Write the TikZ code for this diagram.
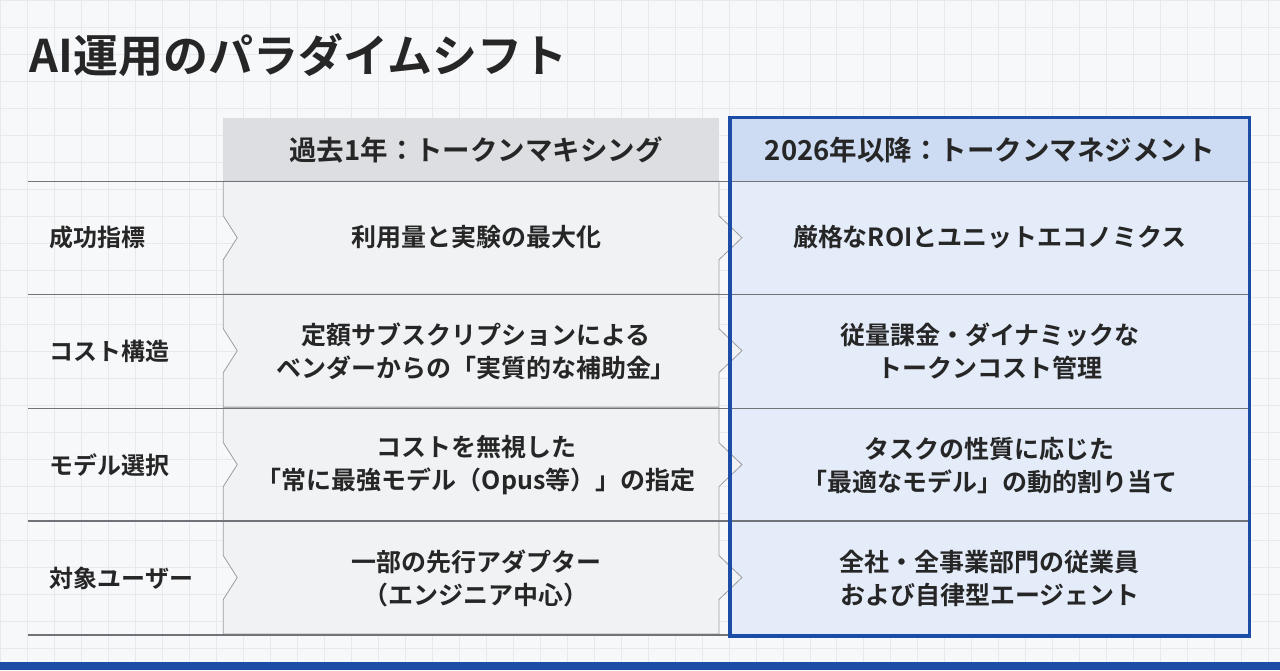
\documentclass[tikz,border=0pt]{standalone}
\usepackage{fontspec}
\newfontfamily\jp{Noto Sans CJK JP}[BoldFont={Noto Sans CJK JP Bold}]
\definecolor{bgc}{HTML}{F7F8FA}
\definecolor{gridc}{HTML}{E6E9EE}
\definecolor{oldc}{HTML}{F0F2F4}
\definecolor{oldhead}{HTML}{DCDEE2}
\definecolor{newc}{HTML}{E4ECF9}
\definecolor{newhead}{HTML}{CDDCF3}
\definecolor{bluec}{HTML}{1C4DA6}
\definecolor{linec}{HTML}{707378}
\tikzset{
	cell/.style={align=center,font=\jp\bfseries\fontsize{25}{33}\selectfont,text=black!85},
	rowlabel/.style={anchor=west,font=\jp\bfseries\fontsize{24}{28}\selectfont,text=black!85},
	head/.style={font=\jp\bfseries\fontsize{27.5}{32}\selectfont,text=black!85}
}
\begin{document}
\begin{tikzpicture}[x=1pt,y=-1pt]
			% background and grid
			\fill[bgc] (0,0) rectangle (1280,670);
			\foreach \g in {0,27,...,1280}
				\draw[gridc,line width=0.8pt] (\g,0) -- (\g,670);
			\foreach \g in {0,27,...,670}
				\draw[gridc,line width=0.8pt] (0,\g) -- (1280,\g);
			\fill[bluec] (0,662) rectangle (1280,670);

			% title
			\node[anchor=west,font=\jp\bfseries\fontsize{45}{50}\selectfont,text=black!85] (title) at (26,55) {AI運用のパラダイムシフト};

			% headers
			\fill[oldhead] (223,118) rectangle (719,181);
			\fill[newhead] (730,118) rectangle (1250,181);
			\fill[newc] (730,181) rectangle (1250,636);
			\node[head] (hold) at (476,150) {過去1年：トークンマキシング};
			\node[head] (hnew) at (990,150) {2026年以降：トークンマネジメント};

			% old column cells with chevrons
			\foreach \t in {181,294,408,521} {
				\pgfmathsetmacro{\m}{\t+56.5}
				\pgfmathsetmacro{\b}{\t+113}
				\fill[oldc,draw=linec!70,line width=0.8pt]
					(223,\t) -- (719,\t) -- (719,\m-22) -- (742,\m) -- (719,\m+22) -- (719,\b)
					-- (223,\b) -- (223,\m+22) -- (237,\m) -- (223,\m-22) -- cycle;
			}

			% row lines
			\foreach \y in {181,294,408,521,635}
				\draw[linec,line width=1.2pt] (28,\y) -- (1250,\y);

			% blue frame
			\draw[bluec,line width=3.5pt] (730,117) rectangle (1250,636);

			% rows
			\node[rowlabel] (r1) at (46,237) {成功指標};
			\node[rowlabel] (r2) at (46,351) {コスト構造};
			\node[rowlabel] (r3) at (46,465) {モデル選択};
			\node[rowlabel] (r4) at (46,578) {対象ユーザー};

			\node[cell] (o1) at (476,237) {利用量と実験の最大化};
			\node[cell] (o2) at (476,351) {定額サブスクリプションによる\\ベンダーからの「実質的な補助金」};
			\node[cell] (o3) at (476,465) {コストを無視した\\「常に最強モデル（Opus等）」の指定};
			\node[cell] (o4) at (476,578) {一部の先行アダプター\\（エンジニア中心）};

			\node[cell] (n1) at (990,237) {厳格なROIとユニットエコノミクス};
			\node[cell] (n2) at (990,351) {従量課金・ダイナミックな\\トークンコスト管理};
			\node[cell] (n3) at (990,465) {タスクの性質に応じた\\「最適なモデル」の動的割り当て};
			\node[cell] (n4) at (990,578) {全社・全事業部門の従業員\\および自律型エージェント};
\end{tikzpicture}
\end{document}
